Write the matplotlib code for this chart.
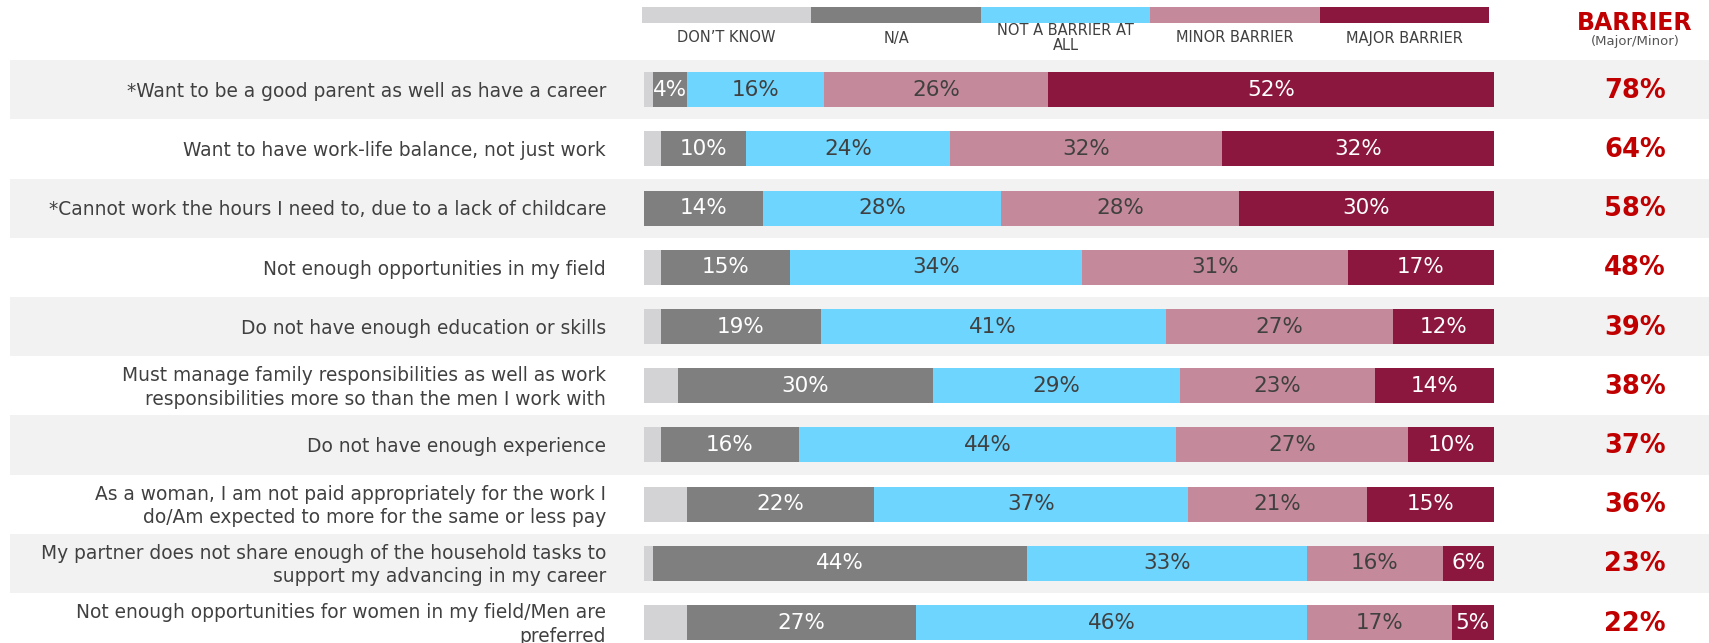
import numpy as np
import matplotlib
matplotlib.use("Agg")
import matplotlib.pyplot as plt
from matplotlib.patches import Rectangle
from matplotlib.transforms import blended_transform_factory

# data (percent)
labels = [
    "*Want to be a good parent as well as have a career",
    "Want to have work-life balance, not just work",
    "*Cannot work the hours I need to, due to a lack of childcare",
    "Not enough opportunities in my field",
    "Do not have enough education or skills",
    "Must manage family responsibilities as well as work\nresponsibilities more so than the men I work with",
    "Do not have enough experience",
    "As a woman, I am not paid appropriately for the work I\ndo/Am expected to more for the same or less pay",
    "My partner does not share enough of the household tasks to\nsupport my advancing in my career",
    "Not enough opportunities for women in my field/Men are\npreferred",
]
dont_know = [1, 2, 0, 2, 2, 4, 2, 5, 1, 5]
na = [4, 10, 14, 15, 19, 30, 16, 22, 44, 27]
not_barrier = [16, 24, 28, 34, 41, 29, 44, 37, 33, 46]
minor = [26, 32, 28, 31, 27, 23, 27, 21, 16, 17]
major = [52, 32, 30, 17, 12, 14, 10, 15, 6, 5]
barrier = [78, 64, 58, 48, 39, 38, 37, 36, 23, 22]

series_names = ["DON\u2019T KNOW", "N/A", "NOT A BARRIER AT\nALL", "MINOR BARRIER", "MAJOR BARRIER"]
colors = ["#d3d3d5", "#7f7f7f", "#6dd5fe", "#c48a9b", "#8b173f"]
text_colors = [None, "white", "#404040", "#404040", "white"]

W, H = 1709, 643
fig = plt.figure(figsize=(W / 100, H / 100), dpi=100)
fig.patch.set_facecolor("white")

# bar area in pixels
x0, x1 = 644, 1494
row_top, row_h = 60.1, 59.2
n = len(labels)
ax_top = row_top
ax_bot = row_top + n * row_h
ax = fig.add_axes([x0 / W, 1 - ax_bot / H, (x1 - x0) / W, (ax_bot - ax_top) / H])
ax.set_xlim(0, 100)
ax.set_ylim(n - 0.5, -0.5)
ax.axis("off")
ax.set_facecolor("none")

# alternating row bands
trans = blended_transform_factory(fig.transFigure, ax.transData)
for i in range(n):
    if i % 2 == 0:
        fig.add_artist(Rectangle((10 / W, i - 0.5), 1 - 10 / W, 1, transform=trans,
                                 facecolor="#f2f2f2", edgecolor="none", zorder=0))

data = np.array([dont_know, na, not_barrier, minor, major], dtype=float)
widths = data / data.sum(axis=0) * 100
y = np.arange(n)
left = np.zeros(n)
for k in range(5):
    ax.barh(y, widths[k], left=left, height=0.59, color=colors[k], edgecolor="none", zorder=2)
    if text_colors[k]:
        for i in range(n):
            ax.text(left[i] + widths[k][i] / 2, i, f"{int(data[k][i])}%", ha="center", va="center",
                    fontsize=15.5, color=text_colors[k], zorder=3)
    left += widths[k]

# row labels and barrier totals
for i, lab in enumerate(labels):
    t = fig.text(606 / W, 0, lab, transform=trans, ha="right", va="center", fontsize=13.4,
                 color="#404040", linespacing=1.3)
    t.set_y(i + 0.03)
    t = fig.text(1635 / W, 0, f"{barrier[i]}%", transform=trans, ha="center", va="center",
                 fontsize=18.5, fontweight="bold", color="#c00000")
    t.set_y(i + 0.02)

# legend strip on top
seg = (1489 - 642) / 5
for k in range(5):
    fig.add_artist(Rectangle(((642 + k * seg) / W, 1 - 23 / H), seg / W, 16 / H,
                             transform=fig.transFigure, facecolor=colors[k], edgecolor="none"))
    fig.text((642 + (k + 0.5) * seg) / W, 1 - 38 / H, series_names[k], ha="center", va="center",
             fontsize=10.5, color="#404040", linespacing=0.95,
             family=["Liberation Sans Narrow", "DejaVu Sans"])

fig.text(1635 / W, 1 - 23 / H, "BARRIER", ha="center", va="center", fontsize=17,
         fontweight="bold", color="#c00000")
fig.text(1635 / W, 1 - 41.5 / H, "(Major/Minor)", ha="center", va="center", fontsize=9.5,
         color="#555555")

fig.savefig("out.png", dpi=100)
